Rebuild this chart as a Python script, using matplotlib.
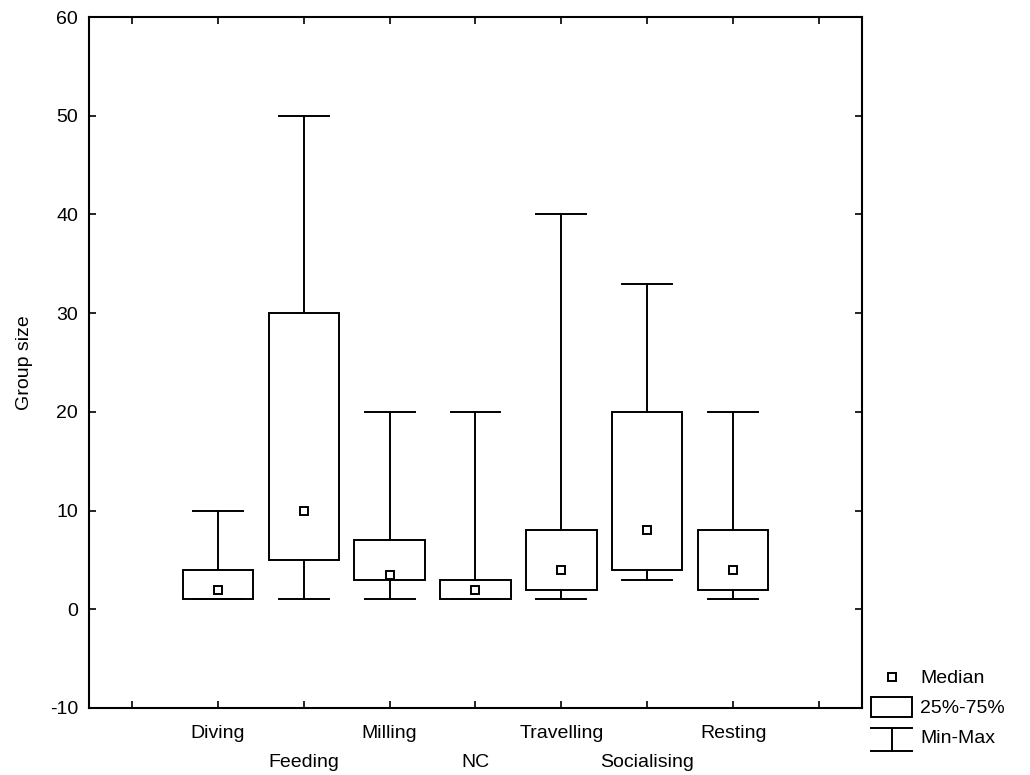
import matplotlib

matplotlib.use("Agg")
import matplotlib.pyplot as plt
from matplotlib.legend_handler import HandlerBase
from matplotlib.lines import Line2D
from matplotlib.patches import Rectangle

plt.rcParams["font.family"] = ["Liberation Sans", "DejaVu Sans"]
plt.rcParams["axes.unicode_minus"] = False

CATEGORIES = ["Diving", "Feeding", "Milling", "NC", "Travelling", "Socialising", "Resting"]
MEDIAN = [2, 10, 3.5, 2, 4, 8, 4]
Q1 = [1, 5, 3, 1, 2, 4, 2]
Q3 = [4, 30, 7, 3, 8, 20, 8]
MIN = [1, 1, 1, 1, 1, 3, 1]
MAX = [10, 50, 20, 20, 40, 33, 20]
Y_TICKS = [-10, 0, 10, 20, 30, 40, 50, 60]

LW = 1.4
FS = 14


class MedianHandler(HandlerBase):
    def create_artists(self, legend, orig, xd, yd, w, h, fs, trans):
        m = Line2D([xd + w / 2], [yd + h / 2], marker="s", ms=5.5, mfc="white",
                   mec="black", mew=LW, ls="none", transform=trans)
        return [m]


class BoxHandler(HandlerBase):
    def create_artists(self, legend, orig, xd, yd, w, h, fs, trans):
        r = Rectangle((xd, yd - 0.3 * h), w, 1.5 * h, fc="white", ec="black",
                      lw=LW, transform=trans)
        return [r]


class RangeHandler(HandlerBase):
    def create_artists(self, legend, orig, xd, yd, w, h, fs, trans):
        top, bot = yd + 1.1 * h, yd - 0.6 * h
        cx = xd + w / 2
        lines = [
            Line2D([xd, xd + w], [top, top], color="black", lw=LW, transform=trans),
            Line2D([xd, xd + w], [bot, bot], color="black", lw=LW, transform=trans),
            Line2D([cx, cx], [bot, top], color="black", lw=LW, transform=trans),
        ]
        return lines


fig = plt.figure(figsize=(10.3, 7.75), dpi=100)
ax = fig.add_axes([0.0864, 0.0865, 0.7505, 0.8915])

positions = list(range(1, len(CATEGORIES) + 1))
stats = [
    {"med": m, "q1": a, "q3": b, "whislo": lo, "whishi": hi, "fliers": []}
    for m, a, b, lo, hi in zip(MEDIAN, Q1, Q3, MIN, MAX)
]
ax.bxp(
    stats,
    positions=positions,
    widths=0.82,
    capwidths=0.58,
    showfliers=False,
    patch_artist=True,
    boxprops=dict(facecolor="white", edgecolor="black", lw=LW),
    whiskerprops=dict(color="black", lw=LW),
    capprops=dict(color="black", lw=LW),
    medianprops=dict(visible=False),
)
ax.plot(positions, MEDIAN, ls="none", marker="s", ms=6, mfc="white", mec="black",
        mew=LW, zorder=5)

ax.set_xlim(-0.5, len(CATEGORIES) + 1.5)
ax.set_ylim(-10, 60)
ax.set_yticks(Y_TICKS)
ax.set_xticks(range(0, len(CATEGORIES) + 2))
labels = [""] + [c if i % 2 == 0 else "\n" + c for i, c in enumerate(CATEGORIES)] + [""]
ax.set_xticklabels(labels, fontsize=FS, linespacing=1.95)
ax.tick_params(axis="x", pad=12)
ax.tick_params(axis="y", labelsize=FS, pad=8)
ax.tick_params(direction="in", top=True, right=True, length=5, width=1.2)
for s in ax.spines.values():
    s.set_linewidth(1.5)
ax.set_ylabel("Group size", fontsize=FS, labelpad=12)

handles = [object(), object(), object()]
fig.legend(
    handles,
    ["Median", "25%-75%", "Min-Max"],
    handler_map={handles[0]: MedianHandler(), handles[1]: BoxHandler(), handles[2]: RangeHandler()},
    loc="lower left",
    bbox_to_anchor=(0.829, 0.014),
    frameon=False,
    fontsize=FS,
    handlelength=2.1,
    handletextpad=0.4,
    labelspacing=0.62,
)

fig.savefig("out.png", dpi=100)
